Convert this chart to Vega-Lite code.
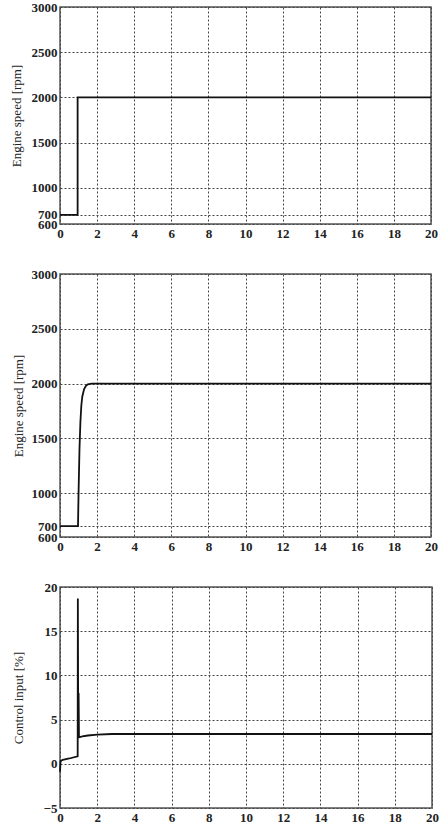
{
  "$schema": "https://vega.github.io/schema/vega-lite/v6.json",
  "background": "white",
  "padding": {"left": 9, "top": 0, "right": 6, "bottom": 2},
  "spacing": 26,
  "config": {
    "view": {"stroke": "#555", "strokeWidth": 1.5},
    "axis": {
      "labelFont": "Liberation Serif", "labelFontSize": 13, "labelFontWeight": "bold", "labelColor": "#222",
      "titleFont": "Liberation Serif", "titleFontSize": 13, "titleFontWeight": "normal", "titleColor": "#222",
      "grid": true, "gridDash": [2, 2], "gridColor": "#444", "gridOpacity": 1, "gridWidth": 1,
      "ticks": false, "domain": false, "labelOverlap": false, "labelFlush": false, "labelPadding": 3, "format": "d",
      "minExtent": 0
    },
    "axisY": {"minExtent": 0}
  },
  "vconcat": [
    {
      "width": 371, "height": 217,
      "data": {"values": [
        {"t": 0, "v": 700}, {"t": 0.95, "v": 2000}, {"t": 20, "v": 2000}
      ]},
      "mark": {"type": "line", "color": "#111", "strokeWidth": 1.8, "interpolate": "step-after"},
      "encoding": {
        "x": {"field": "t", "type": "quantitative", "scale": {"domain": [0, 20], "nice": false},
              "axis": {"values": [0,2,4,6,8,10,12,14,16,18,20], "title": null, "format": "d"}},
        "y": {"field": "v", "type": "quantitative", "scale": {"domain": [600, 3000], "nice": false, "zero": false},
              "axis": {"values": [600,700,1000,1500,2000,2500,3000], "title": "Engine speed [rpm]", "titlePadding": 8, "format": "d", "minExtent": 0}}
      }
    },
    {
      "width": 371, "height": 263,
      "data": {"values": [
        {"t": 0, "v": 700}, {"t": 0.97, "v": 700}, {"t": 1.0, "v": 1000}, {"t": 1.05, "v": 1400},
        {"t": 1.1, "v": 1650}, {"t": 1.15, "v": 1800}, {"t": 1.2, "v": 1880}, {"t": 1.3, "v": 1950},
        {"t": 1.4, "v": 1980}, {"t": 1.5, "v": 1993}, {"t": 1.7, "v": 2000}, {"t": 20, "v": 2000}
      ]},
      "mark": {"type": "line", "color": "#111", "strokeWidth": 1.8},
      "encoding": {
        "x": {"field": "t", "type": "quantitative", "scale": {"domain": [0, 20], "nice": false},
              "axis": {"values": [0,2,4,6,8,10,12,14,16,18,20], "title": null, "format": "d"}},
        "y": {"field": "v", "type": "quantitative", "scale": {"domain": [600, 3000], "nice": false, "zero": false},
              "axis": {"values": [600,700,1000,1500,2000,2500,3000], "title": "Engine speed [rpm]", "titlePadding": 6, "format": "d", "minExtent": 0}}
      }
    },
    {
      "width": 372, "height": 221,
      "data": {"values": [
        {"t": 0, "v": -0.9}, {"t": 0.03, "v": 0.3}, {"t": 0.15, "v": 0.45}, {"t": 0.5, "v": 0.6},
        {"t": 0.95, "v": 0.85}, {"t": 0.96, "v": 18.7}, {"t": 0.98, "v": 3.5}, {"t": 1.0, "v": 8.0},
        {"t": 1.02, "v": 3.0}, {"t": 1.2, "v": 3.1}, {"t": 1.5, "v": 3.2}, {"t": 2.0, "v": 3.3},
        {"t": 2.8, "v": 3.37}, {"t": 20, "v": 3.37}
      ]},
      "mark": {"type": "line", "color": "#111", "strokeWidth": 1.8},
      "encoding": {
        "x": {"field": "t", "type": "quantitative", "scale": {"domain": [0, 20], "nice": false},
              "axis": {"values": [0,2,4,6,8,10,12,14,16,18,20], "title": null, "format": "d"}},
        "y": {"field": "v", "type": "quantitative", "scale": {"domain": [-5, 20], "nice": false, "zero": false},
              "axis": {"values": [-5,0,5,10,15,20], "title": "Control input [%]", "titlePadding": 18, "format": "d", "minExtent": 0}}
      }
    }
  ]
}
